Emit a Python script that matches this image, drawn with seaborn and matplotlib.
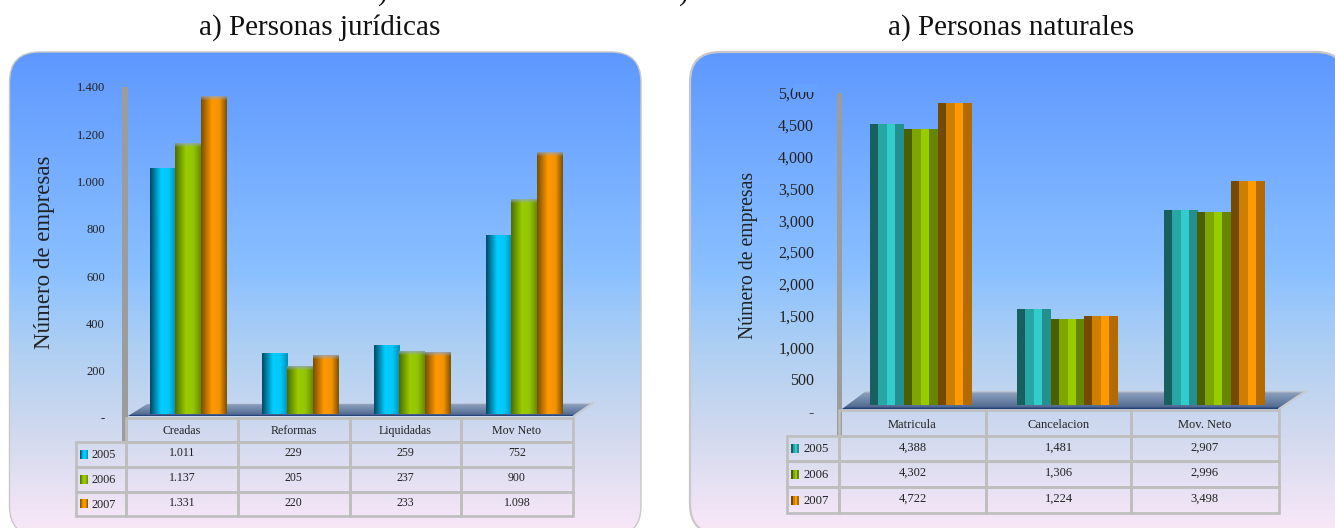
import numpy as np
import pandas as pd
import matplotlib
matplotlib.use('Agg')
import matplotlib.pyplot as plt
import matplotlib.colors as mcolors
from matplotlib.patches import FancyBboxPatch, Polygon, Rectangle
import seaborn as sns

sns.set_style('white')
plt.rcParams['font.family'] = ['Liberation Serif', 'DejaVu Serif']

# Data
years = ['2005', '2006', '2007']

jur_categories = ['Creadas', 'Reformas', 'Liquidadas', 'Mov Neto']
jur_table_2005 = ['1.011', '229', '259', '752']
jur_table_2006 = ['1.137', '205', '237', '900']
jur_table_2007 = ['1.331', '220', '233', '1.098']
# bar heights, they sit a bit above the table numbers
jur_bars_2005 = [1057, 275, 305, 774]
jur_bars_2006 = [1163, 220, 283, 926]
jur_bars_2007 = [1358, 266, 279, 1125]
jur_ticks = [0, 200, 400, 600, 800, 1000, 1200, 1400]
jur_tick_labels = ['-', '200', '400', '600', '800', '1.000', '1.200', '1.400']

nat_categories = ['Matricula', 'Cancelacion', 'Mov. Neto']
nat_table_2005 = ['4,388', '1,481', '2,907']
nat_table_2006 = ['4,302', '1,306', '2,996']
nat_table_2007 = ['4,722', '1,224', '3,498']
nat_bars_2005 = [4497, 1588, 3145]
nat_bars_2006 = [4418, 1431, 3113]
nat_bars_2007 = [4827, 1478, 3616]
nat_ticks = [0, 500, 1000, 1500, 2000, 2500, 3000, 3500, 4000, 4500, 5000]
nat_tick_labels = ['-', '500', '1,000', '1,500', '2,000', '2,500', '3,000', '3,500', '4,000', '4,500', '5,000']

W, H = 1335, 528
fig = plt.figure(figsize=(W / 100, H / 100), dpi=100, facecolor='white')

# back layer in pixel coords, top layer for table and axis wall
back = fig.add_axes([0, 0, 1, 1], zorder=0)
front = fig.add_axes([0, 0, 1, 1], zorder=2)
for a in (back, front):
    a.set_xlim(0, W)
    a.set_ylim(H, 0)
    a.axis('off')
    a.patch.set_alpha(0)


def rgb(c):
    return np.array(mcolors.to_rgb(c))


def panel(x0, x1, y0, y1, border_lw):
    stops_y = [52, 270, 345, 430, 530]
    stops_c = np.array([rgb(c) for c in ['#5E98FF', '#8AC0FF', '#ADCFF3', '#D0D9EE', '#F9E8F8']])
    ys = np.arange(y0, y1)
    grad = np.stack([np.interp(ys, stops_y, stops_c[:, i]) for i in range(3)], axis=1)[:, None, :]
    # almost invisible fill, an unfilled curve gets bent when it runs off the canvas
    box = FancyBboxPatch((x0, y0), x1 - x0, y1 - y0, boxstyle='round,pad=0,rounding_size=30',
                         fc=(1, 1, 1, 0.004), ec='#C8C8C8', lw=border_lw, zorder=3)
    back.add_patch(box)
    im = back.imshow(grad, extent=(x0, x1, y1, y0), aspect='auto', zorder=2)
    im.set_clip_path(box)


def floor(points):
    ys = [p[1] for p in points]
    stops = np.array([rgb(c) for c in ['#C2CAD4', '#8A9DB9', '#6F86A9', '#546C92', '#1F3C78']])
    t = np.linspace(0, 1, 24)
    grad = np.stack([np.interp(t, [0, .1, .5, .88, 1], stops[:, i]) for i in range(3)], axis=1)[:, None, :]
    poly = Polygon(points, closed=True, fc='none', ec='none', zorder=4)
    back.add_patch(poly)
    xs = [p[0] for p in points]
    im = back.imshow(grad, extent=(min(xs), max(xs), max(ys), min(ys)), aspect='auto', zorder=4)
    im.set_clip_path(poly)
    # light right edge of the floor
    back.plot([points[2][0], points[3][0]], [points[2][1], points[3][1]], color='#C6CBCF', lw=1.6, zorder=5)


def smooth_strip(colors, n=40):
    # left dark, bright middle, shaded right
    t = np.linspace(0, 1, n)
    c = np.array([rgb(x) for x in colors])
    return np.stack([np.interp(t, [0, .42, .72, 1], c[:, i]) for i in range(3)], axis=1)


def stripe_strip(colors):
    return np.array([rgb(x) for x in colors])


def draw_chart(pos, categories, series, ticks, tick_labels, ymax, width, base, strips, cap, pad, tick_fs):
    frames = []
    for year, vals in zip(years, series):
        frames.append(pd.DataFrame({'cat': categories, 'year': year, 'value': vals}))
    df = pd.concat(frames, ignore_index=True)

    x0, x1, y_top, y_bottom = pos
    ax = fig.add_axes([x0 / W, 1 - y_bottom / H, (x1 - x0) / W, (y_bottom - y_top) / H], zorder=1)
    ax.patch.set_alpha(0)
    sns.barplot(data=df, x='cat', y='value', hue='year', width=width, gap=0, dodge=True,
                palette=[tuple(s[len(s) // 2]) for s in strips], legend=False, ax=ax)
    n = len(categories)
    bars = list(ax.patches)
    for i, b in enumerate(bars):
        s = i // n
        left, w, h = b.get_x(), b.get_width(), b.get_height()
        if h <= 0:
            continue
        b.set_visible(False)
        px_h = max(int(round((h - base) / ymax * (y_bottom - y_top))), 2)
        img = np.repeat(strips[s][None, :, :], px_h, axis=0)
        if cap[s]:
            for r in range(min(cap[s], px_h)):
                k = 0.75 * (1 - r / cap[s])
                img[r] = img[r] * (1 - k) + rgb('#8FA6C4') * k
        ax.imshow(img, extent=(left, left + w, base, h), aspect='auto', zorder=3,
                  interpolation='nearest' if strips[s].shape[0] < 10 else 'bilinear')
    ax.set_xlim(-0.5, n - 0.5)
    ax.set_ylim(0, ymax)
    ax.set_yticks(ticks)
    ax.set_yticklabels(tick_labels)
    ax.set_xticks([])
    ax.set_xlabel('')
    ax.set_ylabel('')
    ax.tick_params(axis='y', length=0, pad=pad, labelsize=tick_fs, labelcolor='#222222')
    for sp in ax.spines.values():
        sp.set_visible(False)
    return ax


def data_table(cols, rows, categories, table_rows, strips, fs, legend_fs, swatch_x, text_x):
    lw = 1.9
    gray = '#BEBEBE'
    for j, name in enumerate(categories):
        front.add_patch(Rectangle((cols[j + 1], rows[0]), cols[j + 2] - cols[j + 1], rows[1] - rows[0],
                                  fc='none', ec=gray, lw=lw))
        front.text((cols[j + 1] + cols[j + 2]) / 2, (rows[0] + rows[1]) / 2, name, ha='center',
                   va='center_baseline', fontsize=fs, color='#222222')
    for i, vals in enumerate(table_rows):
        y0, y1 = rows[i + 1], rows[i + 2]
        front.add_patch(Rectangle((cols[0], y0), cols[1] - cols[0], y1 - y0, fc='none', ec=gray, lw=lw))
        cy = (y0 + y1) / 2
        front.imshow(strips[i][None, :, :], extent=(swatch_x, swatch_x + 8, cy + 5, cy - 4), aspect='auto',
                     interpolation='nearest')
        front.text(text_x, cy + 1, years[i], ha='left', va='center', fontsize=legend_fs, color='#222222')
        for j, v in enumerate(vals):
            front.add_patch(Rectangle((cols[j + 1], y0), cols[j + 2] - cols[j + 1], y1 - y0,
                                      fc='none', ec=gray, lw=lw))
            front.text((cols[j + 1] + cols[j + 2]) / 2, cy - 1, v, ha='center', va='center',
                       fontsize=fs, color='#222222')


jur_strips = [
    smooth_strip(['#004A66', '#00CCFF', '#00C8FA', '#0090B8']),
    smooth_strip(['#4F6E00', '#99CC00', '#94C400', '#6A8E00']),
    smooth_strip(['#7A4F00', '#FF9900', '#F59300', '#7F5200']),
]
nat_strips = [
    stripe_strip(['#17605F', '#27A6A6', '#33CCCC', '#23908F']),
    stripe_strip(['#4A6000', '#7FA600', '#99CC00', '#668500']),
    stripe_strip(['#734A00', '#CC7F00', '#FF9900', '#B36B00']),
]

panel(9.5, 641, 52, 536, 1.0)
panel(690, 1346, 52, 534, 1.6)

floor([(128, 416), (147, 404), (593, 403), (574, 416)])
floor([(842, 409), (866, 391), (1306, 391), (1279, 409)])

draw_chart((132, 580, 87, 418), jur_categories, [jur_bars_2005, jur_bars_2006, jur_bars_2007],
           jur_ticks, jur_tick_labels, 1400, 0.68, 17, jur_strips, [0, 4, 4], 19.5, 9)
draw_chart((847.5, 1287.5, 93, 411), nat_categories, [nat_bars_2005, nat_bars_2006, nat_bars_2007],
           nat_ticks, nat_tick_labels, 5000, 0.687, 94, nat_strips, [0, 0, 0], 24, 11.5)

# axis walls
front.add_patch(Rectangle((122, 87), 5.5, 354, fc='#9C9C9C', ec='none', zorder=1))
front.add_patch(Rectangle((836.5, 93), 5.5, 343, fc='#9C9C9C', ec='none', zorder=1))
# the top of the 5,000 label is cut off in the original
front.add_patch(Rectangle((793, 84), 24, 7.5, fc='#66A2FF', ec='none', zorder=1))

data_table([75.5, 126, 238, 349.5, 461, 573], [417.5, 441.5, 467, 491.5, 515.5], jur_categories,
           [jur_table_2005, jur_table_2006, jur_table_2007], jur_strips, 8.6, 8.8, 80, 92)
data_table([786.5, 839, 986, 1131, 1278.5], [410, 436, 461, 487, 513], nat_categories,
           [nat_table_2005, nat_table_2006, nat_table_2007], nat_strips, 9, 9.2, 791, 803)
front.set_xlim(0, W)
front.set_ylim(H, 0)
back.set_xlim(0, W)
back.set_ylim(H, 0)

# titles and y labels
front.text(320, 28, 'a) Personas jurídicas', ha='center', va='center', fontsize=21, color='#111111')
front.text(1011, 28, 'a) Personas naturales', ha='center', va='center', fontsize=21, color='#111111')
front.text(383, 0, ')', ha='center', va='baseline', fontsize=21, color='#111111')
front.text(684, 0, ')', ha='center', va='baseline', fontsize=21, color='#111111')
front.text(45, 252, 'Número de empresas', rotation=90, ha='center', va='center', fontsize=16.5, color='#222222')
front.text(748, 255, 'Número de empresas', rotation=90, ha='center', va='center', fontsize=14.2, color='#222222')

fig.savefig('out.png', dpi=100, facecolor='white')
